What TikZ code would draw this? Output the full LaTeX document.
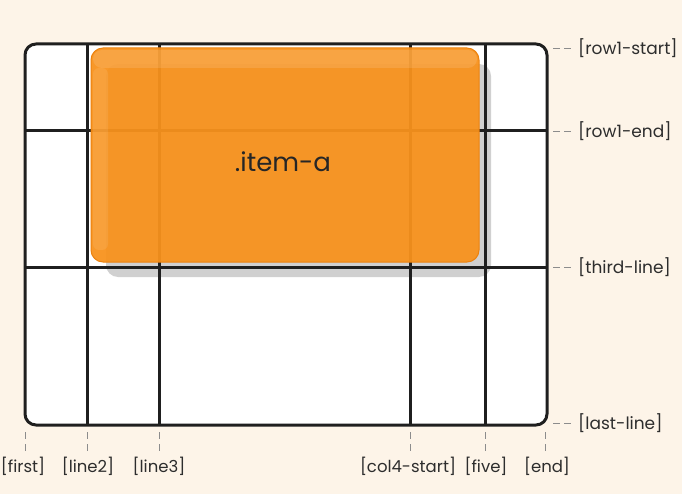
\documentclass[tikz,border=0pt]{standalone}
\usepackage{fontspec}
\setmainfont{Poppins}
\definecolor{bgcream}{RGB}{253,244,232}
\definecolor{itemorange}{RGB}{248,146,28}
\definecolor{itemedge}{RGB}{236,130,14}
\definecolor{labelgray}{RGB}{45,45,45}
\definecolor{tickgray}{RGB}{140,140,140}
\definecolor{shadowgray}{RGB}{208,208,208}
\tikzset{
  gridline/.style={line width=3pt, draw=black!88},
  tickline/.style={draw=tickgray, line width=0.9pt, dash pattern=on 7pt off 5pt},
  rlabel/.style={anchor=west, inner sep=0pt, text=labelgray, font=\fontsize{17}{19}\selectfont},
  blabel/.style={anchor=center, inner sep=0pt, text=labelgray, font=\fontsize{16.5}{19}\selectfont},
}
\begin{document}
\begin{tikzpicture}[x=1pt,y=-1pt]
\fill[bgcream] (0,0) rectangle (682,494);
\useasboundingbox (0,0) rectangle (682,494);
% grid container
\fill[white, rounded corners=11pt] (25,44) rectangle (547,425);
% shadow
\fill[shadowgray, rounded corners=12pt] (106,64) rectangle (491,277);
% grid lines
\draw[gridline] (87,44) -- (87,425);
\draw[gridline] (159,44) -- (159,425);
\draw[gridline] (410,44) -- (410,425);
\draw[gridline] (485,44) -- (485,425);
\draw[gridline] (25,131) -- (547,131);
\draw[gridline] (25,267) -- (547,267);
% item
\fill[itemorange, opacity=0.94, rounded corners=12pt] (91,48) rectangle (479,262);
\draw[itemedge, line width=1pt, rounded corners=12pt] (91,48) rectangle (479,262);
\fill[white, opacity=0.12, rounded corners=9pt] (93,50) rectangle (477,68);
\fill[white, opacity=0.09, rounded corners=6pt] (93,68) rectangle (108,250);
\node[text=black!85, font=\fontsize{26}{28}\selectfont] (itema) at (283,162) {.item-a};
% outer border
\draw[gridline, rounded corners=11pt] (25,44) rectangle (547,425);
% right labels
\node[rlabel] (r1) at (578,48) {[row1-start]};
\node[rlabel] (r2) at (578,131) {[row1-end]};
\node[rlabel] (r3) at (578,267) {[third-line]};
\node[rlabel] (r4) at (578,423) {[last-line]};
\coordinate (rc1) at (553,48);
\coordinate (rc2) at (553,131);
\coordinate (rc3) at (553,267);
\coordinate (rc4) at (553,423);
\foreach \i in {1,2,3,4} \draw[tickline, dash pattern=on 7pt off 4pt] (rc\i) -- ([xshift=-4pt]r\i.west);
% bottom labels
\node[blabel] (b1) at (23,466) {[first]};
\node[blabel] (b2) at (88,466) {[line2]};
\node[blabel] (b3) at (159,466) {[line3]};
\node[blabel] (b4) at (408,466) {[col4-start]};
\node[blabel] (b5) at (486,466) {[five]};
\node[blabel] (b6) at (547,466) {[end]};
\coordinate (bc1) at (25,432);
\coordinate (bc2) at (87,432);
\coordinate (bc3) at (159,432);
\coordinate (bc4) at (410,432);
\coordinate (bc5) at (485,432);
\coordinate (bc6) at (545,432);
\foreach \i in {1,...,6} \draw[tickline] (bc\i) -- (bc\i |- 0,454);
\end{tikzpicture}
\end{document}
